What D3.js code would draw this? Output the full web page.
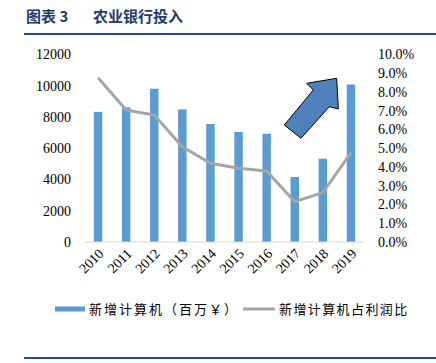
<!DOCTYPE html>
<html>
<head>
<meta charset="utf-8">
<script src="https://cdn.jsdelivr.net/npm/d3@7"></script>
<style>
  body { margin: 0; background: #fff; }
  svg { display: block; }
</style>
</head>
<body>
<div id="chart"></div>
<script>
// chart data
const years = ['2010', '2011', '2012', '2013', '2014', '2015', '2016', '2017', '2018', '2019'];
const newComputers = [8330, 8620, 9810, 8490, 7550, 7040, 6930, 4160, 5330, 10080];
const profitShare = [0.0876, 0.0704, 0.0677, 0.0508, 0.042, 0.0393, 0.0379, 0.0215, 0.0263, 0.0476];
const leftTicks = [0, 2000, 4000, 6000, 8000, 10000, 12000];
const rightTicks = [0, 0.01, 0.02, 0.03, 0.04, 0.05, 0.06, 0.07, 0.08, 0.09, 0.1];
const legendLabels = ['新增计算机（百万￥）', '新增计算机占利润比'];

const W = 436, H = 363;
const plot = {left: 84, right: 365, top: 54.5, bottom: 242};

const svg = d3.select('#chart')
    .append('svg')
    .attr('width', W)
    .attr('height', H);

// title + rules
const titleStyle = sel => sel
    .style('font-family', '"Noto Sans CJK SC", sans-serif')
    .style('font-weight', 'bold')
    .style('font-size', '15px')
    .style('fill', '#1f3a6e');

svg.append('text').attr('x', 26).attr('y', 22).call(titleStyle).text('图表 3');
svg.append('text').attr('x', 93).attr('y', 22).call(titleStyle).text('农业银行投入');

svg.append('rect').attr('x', 24).attr('y', 33).attr('width', W - 24).attr('height', 2).attr('fill', '#1f4e8c');
svg.append('rect').attr('x', 24).attr('y', 357).attr('width', W - 24).attr('height', 2).attr('fill', '#1f4e8c');

// scales
const x = d3.scaleBand()
    .domain(years)
    .range([plot.left, plot.right])
    .paddingInner(0.7)
    .paddingOuter(0.35);

const yLeft = d3.scaleLinear().domain([0, 12000]).range([plot.bottom, plot.top]);
const yRight = d3.scaleLinear().domain([0, 0.1]).range([plot.bottom, plot.top]);

// bars
svg.selectAll('.bar')
    .data(newComputers)
    .enter()
    .append('rect')
    .attr('class', 'bar')
    .attr('x', (d, i) => x(years[i]))
    .attr('width', x.bandwidth())
    .attr('y', d => yLeft(d))
    .attr('height', d => plot.bottom - yLeft(d))
    .attr('fill', '#5b9bd5');

// x axis line
svg.append('line')
    .attr('x1', plot.left).attr('x2', plot.right)
    .attr('y1', plot.bottom).attr('y2', plot.bottom)
    .attr('stroke', '#d9d9d9').attr('stroke-width', 1);

// share line
const line = d3.line()
    .x((d, i) => x(years[i]) + x.bandwidth() / 2)
    .y(d => yRight(d));

svg.append('path')
    .datum(profitShare)
    .attr('d', line)
    .attr('fill', 'none')
    .attr('stroke', '#a5a5a5')
    .attr('stroke-width', 3)
    .attr('stroke-linejoin', 'round');

// left axis
const axisFont = '"Liberation Serif", "Times New Roman", serif';
const leftAxis = svg.append('g')
    .attr('transform', `translate(${plot.left - 13},0)`)
    .call(d3.axisLeft(yLeft).tickValues(leftTicks).tickSize(0).tickPadding(0).tickFormat(d3.format('d')));
leftAxis.select('.domain').remove();
leftAxis.selectAll('text')
    .style('font-family', axisFont)
    .style('font-size', '14px')
    .attr('fill', '#000');

// right axis
const rightAxis = svg.append('g')
    .attr('transform', `translate(${plot.right + 13},0)`)
    .call(d3.axisRight(yRight).tickValues(rightTicks).tickSize(0).tickPadding(0).tickFormat(d3.format('.1%')));
rightAxis.select('.domain').remove();
rightAxis.selectAll('text')
    .style('font-family', axisFont)
    .style('font-size', '14px')
    .attr('fill', '#000');

// year labels, rotated
svg.selectAll('.year')
    .data(years)
    .enter()
    .append('text')
    .attr('class', 'year')
    .attr('transform', d => `translate(${x(d) + x.bandwidth() / 2 + 3},${plot.bottom + 9}) rotate(-45)`)
    .attr('text-anchor', 'end')
    .attr('dy', '0.35em')
    .style('font-family', axisFont)
    .style('font-size', '14px')
    .text(d => d);

// big arrow annotation
svg.append('path')
    .attr('d', 'M284.3,125 L313.3,90 L306.7,83.3 L336.7,78.3 L338.3,109 L329.3,106.7 L301,138.3 Z')
    .attr('fill', '#4f81bd')
    .attr('stroke', '#000')
    .attr('stroke-width', 1)
    .attr('stroke-linejoin', 'miter');

// legend
const legendFont = '"Noto Sans CJK SC", sans-serif';
const legY = 309;
svg.append('rect')
    .attr('x', 55).attr('y', legY - 2.5)
    .attr('width', 30).attr('height', 5)
    .attr('fill', '#5b9bd5');
svg.append('text')
    .attr('x', 89).attr('y', legY)
    .attr('dy', '0.35em')
    .style('font-family', legendFont)
    .style('font-size', '13px')
    .style('letter-spacing', '2px')
    .text(legendLabels[0]);

svg.append('line')
    .attr('x1', 243).attr('x2', 275)
    .attr('y1', legY).attr('y2', legY)
    .attr('stroke', '#a5a5a5')
    .attr('stroke-width', 3);
svg.append('text')
    .attr('x', 279).attr('y', legY)
    .attr('dy', '0.35em')
    .style('font-family', legendFont)
    .style('font-size', '13px')
    .style('letter-spacing', '1.4px')
    .text(legendLabels[1]);
</script>
</body>
</html>
